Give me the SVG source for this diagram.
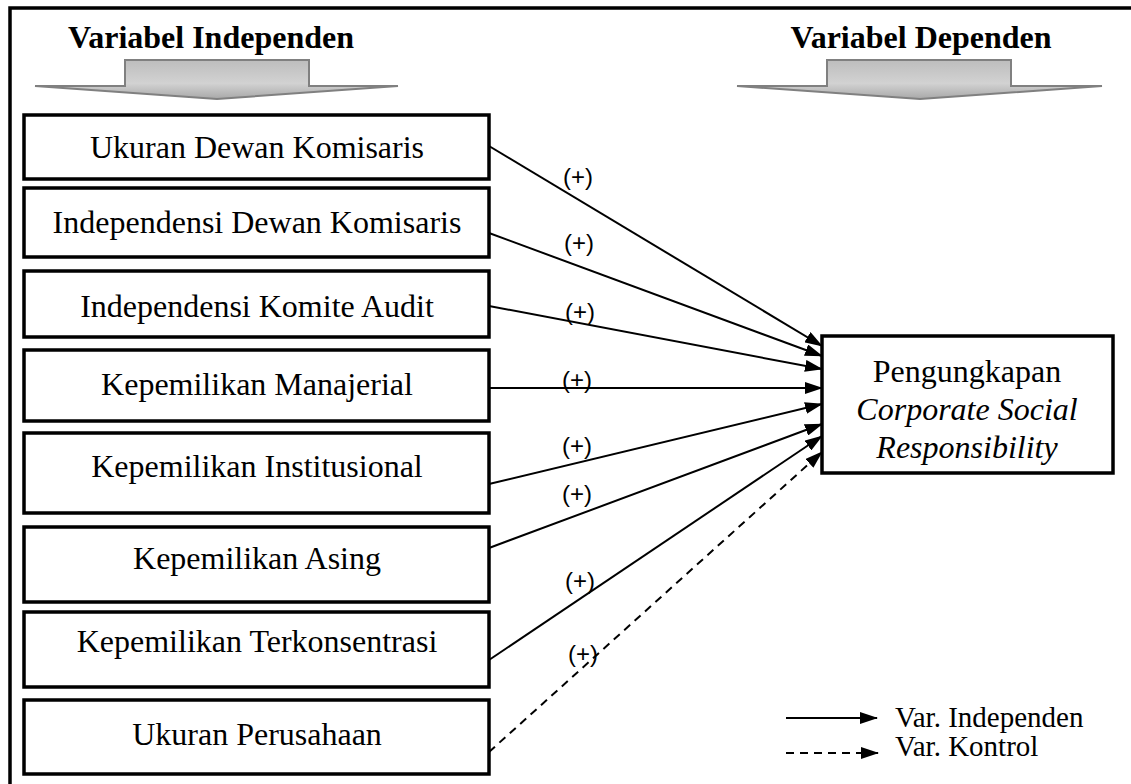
<svg xmlns="http://www.w3.org/2000/svg" width="1131" height="784" viewBox="0 0 1131 784">
<style>
.box{fill:#fff;stroke:#000;stroke-width:3.5}
.bt{font-family:"Liberation Serif",serif;font-size:32px;text-anchor:middle;fill:#000}
.hd{font-family:"Liberation Serif",serif;font-size:32px;font-weight:bold;text-anchor:middle;fill:#000}
.pl{font-family:"Liberation Sans",sans-serif;font-size:24px;text-anchor:middle;fill:#000}
.lg{font-family:"Liberation Serif",serif;font-size:29px;fill:#000}
.ln{stroke:#000;stroke-width:2;fill:none}
.dl{stroke:#000;stroke-width:2;fill:none;stroke-dasharray:8,6}
.ha{fill:url(#g);stroke:#808080;stroke-width:2}
</style>
<defs>
<linearGradient id="g" x1="0" y1="0" x2="0" y2="1">
<stop offset="0" stop-color="#bdbdbd"/>
<stop offset="0.6" stop-color="#d2d2d2"/>
<stop offset="1" stop-color="#a8a8a8"/>
</linearGradient>
<marker id="ah" markerWidth="18" markerHeight="12" refX="17" refY="6" orient="auto" markerUnits="userSpaceOnUse">
<path d="M0,0 L18,6 L0,12 Z" fill="#000"/>
</marker>
</defs>
<rect width="1131" height="784" fill="#fff"/>
<path d="M10,784 V8 H1131" fill="none" stroke="#000" stroke-width="3.5"/>
<g id="header-independen">
<text class="hd" x="211" y="48">Variabel Independen</text>
<path class="ha" d="M125,60 H309 V86 H398 L217,99 L35,86 H125 Z"/>
</g>
<g id="header-dependen">
<text class="hd" x="921" y="48">Variabel Dependen</text>
<path class="ha" d="M827,60 H1011 V86 H1102 L920,99 L737,86 H827 Z"/>
</g>
<g id="n1"><rect class="box" x="24" y="115" width="465" height="64"/><text class="bt" x="257" y="158">Ukuran Dewan Komisaris</text></g>
<g id="n2"><rect class="box" x="24" y="188" width="465" height="69"/><text class="bt" x="257" y="233">Independensi Dewan Komisaris</text></g>
<g id="n3"><rect class="box" x="24" y="271" width="465" height="66"/><text class="bt" x="257" y="317">Independensi Komite Audit</text></g>
<g id="n4"><rect class="box" x="24" y="350" width="465" height="71"/><text class="bt" x="257" y="395">Kepemilikan Manajerial</text></g>
<g id="n5"><rect class="box" x="24" y="433" width="465" height="80"/><text class="bt" x="257" y="477">Kepemilikan Institusional</text></g>
<g id="n6"><rect class="box" x="24" y="527" width="465" height="75"/><text class="bt" x="257" y="569">Kepemilikan Asing</text></g>
<g id="n7"><rect class="box" x="24" y="612" width="465" height="75"/><text class="bt" x="257" y="652">Kepemilikan Terkonsentrasi</text></g>
<g id="n8"><rect class="box" x="24" y="700" width="465" height="74"/><text class="bt" x="257" y="745">Ukuran Perusahaan</text></g>
<g id="target"><rect class="box" x="822" y="336" width="291" height="137"/>
<text class="bt" x="967" y="382">Pengungkapan</text>
<text class="bt" x="967" y="420" font-style="italic">Corporate Social</text>
<text class="bt" x="967" y="458" font-style="italic">Responsibility</text></g>
<g id="connectors">
<line class="ln" x1="489" y1="146" x2="822" y2="346" marker-end="url(#ah)"/>
<line class="ln" x1="489" y1="233" x2="822" y2="356" marker-end="url(#ah)"/>
<line class="ln" x1="489" y1="306" x2="822" y2="369" marker-end="url(#ah)"/>
<line class="ln" x1="489" y1="388" x2="822" y2="388" marker-end="url(#ah)"/>
<line class="ln" x1="489" y1="484" x2="822" y2="404" marker-end="url(#ah)"/>
<line class="ln" x1="489" y1="548" x2="822" y2="424" marker-end="url(#ah)"/>
<line class="ln" x1="489" y1="660" x2="822" y2="436" marker-end="url(#ah)"/>
<line class="dl" x1="489" y1="752" x2="822" y2="452" marker-end="url(#ah)"/>
<text class="pl" x="578" y="185">(+)</text>
<text class="pl" x="579" y="251">(+)</text>
<text class="pl" x="580" y="320">(+)</text>
<text class="pl" x="577" y="388">(+)</text>
<text class="pl" x="577" y="454">(+)</text>
<text class="pl" x="577" y="502">(+)</text>
<text class="pl" x="580" y="589">(+)</text>
<text class="pl" x="583" y="662">(+)</text>
</g>
<g id="legend">
<line class="ln" x1="786" y1="718" x2="877" y2="718" marker-end="url(#ah)"/>
<line class="dl" x1="786" y1="753" x2="878" y2="753" marker-end="url(#ah)"/>
<text class="lg" x="895" y="727">Var. Independen</text>
<text class="lg" x="895" y="756">Var. Kontrol</text>
</g>
</svg>
